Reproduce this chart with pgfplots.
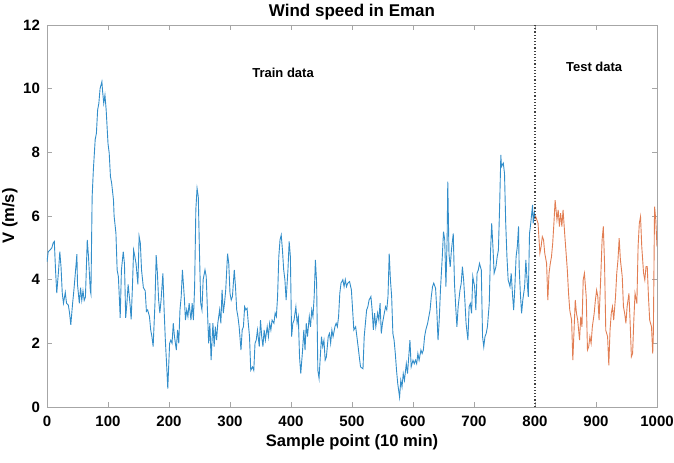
\documentclass[border=0pt]{standalone}
\usepackage{fontspec}
\setmainfont{Liberation Sans}
\usepackage{pgfplots}
\pgfplotsset{compat=1.18}

\definecolor{mblue}{rgb}{0,0.447,0.741}
\definecolor{morange}{rgb}{0.85,0.325,0.098}

\begin{document}
\begin{tikzpicture}
\begin{axis}[
    name=ax,
    scale only axis,
    width=305pt,
    height=191pt,
    xmin=0, xmax=1000,
    ymin=0, ymax=12,
    xtick={0,100,...,1000},
    ytick={0,2,...,12},
    tick align=inside,
    major tick length=2.5pt,
    axis line style={gray!70},
    tick style={gray!70},
    /pgf/number format/assume math mode=true,
    /pgf/number format/1000 sep={},
    ticklabel style={font=\bfseries\fontsize{7.5}{8}\selectfont},
    xticklabel style={yshift=-1pt},
    xlabel={Sample point (10 min)},
    ylabel={V (m/s)},
    label style={font=\bfseries\fontsize{8.3}{9}\selectfont},
    xlabel style={yshift=3pt},
    ylabel style={yshift=-4pt},
    clip=true,
]
% training part
\addplot[mblue!80, line width=0.45pt] coordinates {
(0,4.56) (2,4.88) (5,4.93) (8,5.0) (10,5.15) (12,5.2) (14,4.3) (16,3.58) (19,4.3) (21,4.88)
(23,4.4) (25,3.58) (27,3.26) (30,3.6) (32,3.26) (35,3.2) (37,2.95) (39,2.58) (42,3.26) (44,3.65)
(46,4.1) (49,4.8) (50,3.85) (53,3.26) (55,3.75) (57,3.35) (59,3.65) (61,3.35) (63,3.45) (66,5.25)
(68,4.73) (71,3.65) (72,3.55) (74,6.6) (76,7.45) (79,8.4) (81,8.6) (83,9.33) (85,9.54) (87,10.0)
(90,10.22) (91,9.95) (93,9.54) (95,9.8) (97,9.33) (100,8.28) (102,7.97) (104,7.24) (106,7.03) (109,6.5)
(110,6.0) (113,5.46) (115,4.3) (117,4.1) (119,3.26) (120,2.8) (122,4.3) (125,4.88) (127,4.5) (129,2.8)
(131,3.26) (133,3.85) (136,3.26) (138,2.75) (140,3.75) (142,4.93) (144,4.73) (146,4.5) (149,3.85) (151,5.36)
(153,5.15) (155,4.3) (158,3.75) (161,3.65) (163,3.0) (165,3.05) (168,2.84) (170,2.42) (172,2.21) (174,1.9)
(177,3.26) (179,4.77) (181,4.2) (183,3.36) (185,2.95) (187,3.36) (190,4.2) (192,3.05) (194,2.1) (196,1.37)
(198,0.58) (201,2.0) (203,2.1) (205,2.0) (207,2.63) (209,2.21) (212,1.79) (214,2.42) (216,2.0) (218,3.05)
(220,3.47) (222,4.31) (225,3.47) (227,2.73) (229,3.05) (231,2.84) (233,3.26) (236,2.73) (238,3.26) (240,2.73)
(242,3.78) (244,6.2) (246,6.87) (248,6.61) (250,4.82) (252,3.26) (254,3.05) (256,4.0) (259,4.31) (261,4.1)
(263,3.05) (265,2.0) (267,2.63) (269,1.47) (272,2.63) (274,1.9) (276,2.52) (278,2.1) (280,2.63) (283,3.05)
(285,2.63) (287,3.68) (289,2.95) (291,3.26) (293,3.68) (296,4.82) (298,4.5) (300,3.57) (302,3.36) (304,3.47)
(307,4.31) (309,3.78) (311,3.05) (313,2.84) (315,2.52) (318,1.79) (320,2.42) (322,2.52) (324,3.15) (326,3.05)
(328,3.1) (330,2.63) (332,2.21) (334,1.15) (337,1.26) (339,1.15) (341,2.0) (343,2.1) (345,2.42) (348,1.9)
(350,2.73) (352,2.21) (354,1.9) (356,2.42) (358,2.1) (361,2.52) (363,2.21) (365,2.63) (367,2.42) (369,2.73)
(372,2.63) (374,2.95) (376,2.84) (378,3.47) (380,4.72) (382,5.25) (384,5.4) (386,4.93) (388,4.31) (390,4.0)
(392,3.36) (395,4.31) (397,5.2) (399,4.72) (401,2.21) (403,2.63) (405,2.73) (408,3.15) (410,2.63) (412,2.84)
(414,1.57) (416,1.05) (419,1.79) (421,2.42) (423,1.79) (425,2.63) (427,2.21) (430,2.84) (432,2.52) (434,3.05)
(436,2.84) (438,3.47) (440,4.62) (442,3.89) (444,1.15) (446,0.9) (448,1.57) (450,2.21) (452,1.9) (454,2.1)
(456,1.47) (458,1.57) (461,2.21) (463,2.31) (465,2.0) (467,2.42) (469,2.21) (472,2.52) (474,2.63) (476,2.52)
(478,2.84) (480,3.57) (482,3.89) (485,4.0) (487,3.78) (489,4.0) (491,3.78) (493,3.89) (496,3.94) (499,3.68)
(501,3.05) (503,2.42) (506,2.52) (508,2.21) (510,1.9) (512,1.57) (514,1.26) (518,1.2) (520,2.21) (522,2.63)
(524,3.05) (526,3.15) (528,3.36) (531,3.47) (533,3.05) (535,2.42) (537,2.95) (539,2.52) (542,2.95) (544,2.73)
(546,3.26) (548,2.31) (550,2.63) (553,2.95) (555,3.15) (557,3.05) (559,3.47) (561,4.82) (563,3.99) (565,3.47)
(567,2.31) (569,2.1) (571,1.68) (573,1.15) (575,0.73) (578,0.31) (580,0.84) (582,0.63) (584,1.05) (586,0.84)
(589,1.36) (591,1.05) (593,1.57) (595,2.1) (597,1.26) (600,1.47) (602,1.36) (604,1.47) (606,1.36) (608,1.68)
(610,1.47) (613,1.79) (615,1.68) (617,1.79) (619,2.21) (621,2.42) (624,2.63) (626,2.84) (628,3.05) (630,3.47)
(632,3.78) (634,3.89) (637,3.73) (639,3.05) (641,2.1) (643,2.73) (645,3.68) (648,4.72) (650,5.51) (652,5.25)
(654,3.78) (656,5.36) (657,7.08) (659,4.8) (661,4.4) (663,4.93) (666,5.45) (668,3.88) (670,3.15) (672,2.52)
(674,3.15) (677,3.67) (679,3.88) (681,4.41) (683,3.99) (685,3.36) (687,2.63) (690,2.1) (692,3.15) (694,3.25)
(696,2.94) (698,4.1) (701,3.78) (703,3.04) (705,4.2) (707,4.3) (709,4.51) (712,4.3) (714,2.21) (716,1.89)
(718,2.21) (720,2.31) (722,2.52) (725,3.25) (727,4.83) (729,5.77) (731,5.04) (733,4.2) (736,4.41) (738,4.72)
(740,4.93) (742,6.3) (744,7.92) (745,7.55) (748,7.66) (750,7.34) (752,5.77) (754,4.72) (756,3.99) (759,3.78)
(761,4.2) (763,3.57) (765,3.04) (767,3.78) (769,4.72) (771,5.04) (773,5.67) (774,4.41) (776,3.57) (778,2.94)
(780,3.36) (783,3.78) (785,4.62) (787,3.99) (789,3.46) (791,5.45) (793,5.77) (796,6.35) (797,5.77) (799,6.09)
(800,5.9)
};
% test part
\addplot[morange!75, line width=0.45pt] coordinates {
(800,5.9) (801,5.99) (803,5.88) (805,5.77) (808,4.83) (810,5.04) (812,5.35) (814,5.25) (816,4.83) (819,4.51)
(821,3.36) (823,4.2) (825,4.5) (827,4.72) (829,5.14) (831,5.77) (833,6.5) (836,5.88) (838,6.19) (840,5.67)
(842,6.09) (844,5.67) (846,6.19) (849,5.35) (851,4.83) (853,4.3) (855,3.57) (857,3.04) (860,2.73) (862,1.47)
(864,2.41) (866,3.36) (868,2.94) (870,2.73) (873,2.1) (875,2.84) (877,2.52) (879,3.99) (881,4.2) (884,3.46)
(886,1.79) (888,1.89) (890,2.21) (892,2.0) (894,2.52) (897,2.94) (899,3.36) (901,3.67) (903,3.46) (905,2.73)
(908,4.2) (910,5.25) (912,5.67) (914,4.51) (916,2.41) (919,2.21) (921,1.31) (923,2.41) (925,2.94) (927,3.15)
(929,2.73) (932,3.46) (934,4.2) (936,4.62) (938,5.3) (940,4.62) (943,4.1) (945,3.15) (947,2.94) (949,2.63)
(951,3.15) (954,3.57) (956,2.63) (958,1.58) (960,1.68) (962,2.73) (964,3.57) (967,3.25) (969,5.04) (971,5.77)
(973,5.98) (975,5.04) (978,4.2) (980,3.99) (982,4.41) (984,4.41) (986,3.46) (988,2.73) (991,2.52) (993,1.68)
(994,2.31) (996,6.29) (998,5.88) (1000,5.04)
};
% split marker
\addplot[black!75, densely dotted, line width=0.6pt] coordinates {(800,0) (800,12)};
\node[font=\bfseries\fontsize{6.5}{7}\selectfont] at (axis cs:387,10.5) {Train data};
\node[font=\bfseries\fontsize{6.5}{7}\selectfont] at (axis cs:897,10.68) {Test data};
\end{axis}
\node[anchor=base, font=\bfseries\fontsize{8.5}{9}\selectfont] at ([yshift=4pt]ax.north) {Wind speed in Eman};
\pgfresetboundingbox
\path[use as bounding box] ([xshift=-23.5pt,yshift=-28pt]ax.south west) rectangle ([xshift=8.5pt,yshift=12.5pt]ax.north east);
\end{tikzpicture}
\end{document}
